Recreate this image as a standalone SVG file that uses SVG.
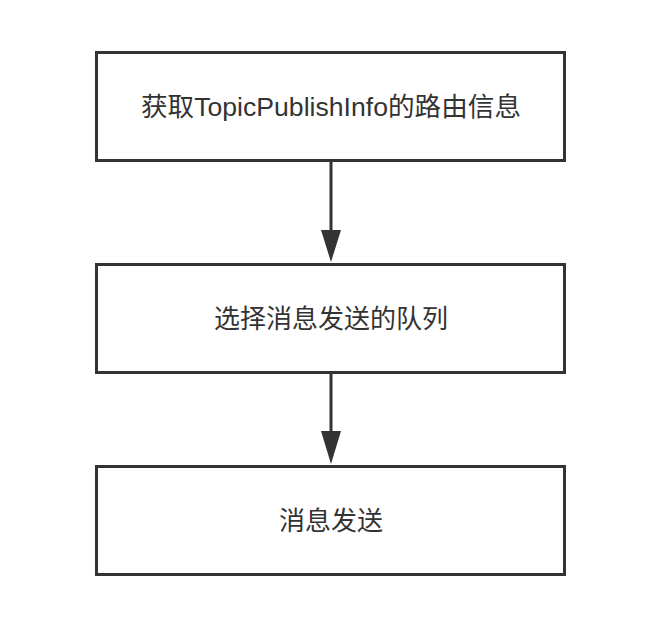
<svg xmlns="http://www.w3.org/2000/svg" width="660" height="622" viewBox="0 0 660 622">
<style>
.box{fill:#fff;stroke:#333;stroke-width:3}
.lbl{font-family:"Liberation Sans","Noto Sans CJK SC",sans-serif;font-size:26px;fill:#333;text-anchor:middle}
.edge{stroke:#333;stroke-width:3;fill:none}
.head{fill:#333}
</style>
<rect width="660" height="622" fill="#fff"/>
<g id="connectors">
<line class="edge" x1="331" y1="162" x2="331" y2="234"/>
<polygon class="head" points="321,230 341,230 331,262"/>
<line class="edge" x1="331" y1="374" x2="331" y2="434"/>
<polygon class="head" points="321,431 341,431 331,464"/>
</g>
<g id="n1">
<rect class="box" x="96.5" y="52.5" width="468" height="108"/>
<text class="lbl" x="331" y="116" textLength="380" lengthAdjust="spacingAndGlyphs">获取TopicPublishInfo的路由信息</text>
</g>
<g id="n2">
<rect class="box" x="96.5" y="264.5" width="468" height="108"/>
<text class="lbl" x="331" y="328">选择消息发送的队列</text>
</g>
<g id="n3">
<rect class="box" x="96.5" y="466.5" width="468" height="108"/>
<text class="lbl" x="331" y="530">消息发送</text>
</g>
</svg>
